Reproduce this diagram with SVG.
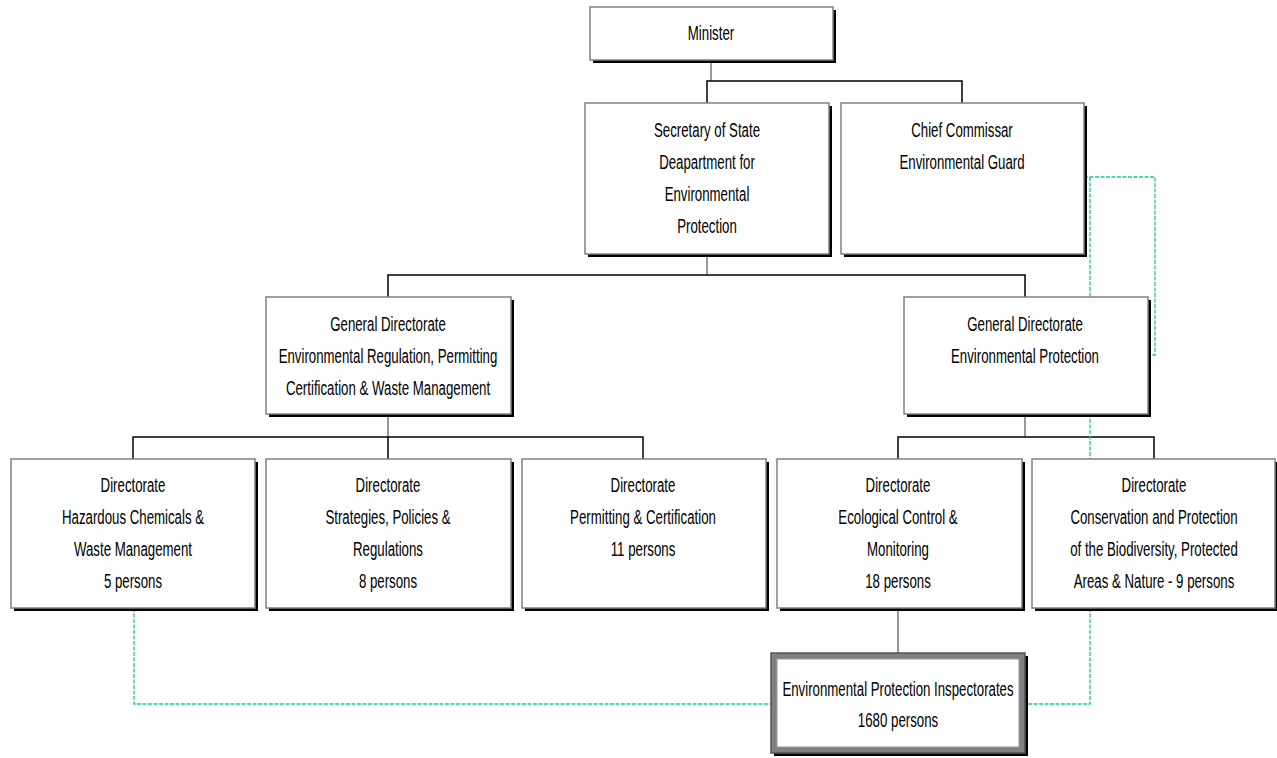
<svg xmlns="http://www.w3.org/2000/svg" width="1277" height="758" viewBox="0 0 1277 758">
<style>
.sh{fill:#000}
.bx{fill:#fff;stroke:#808080;stroke-width:1.5}
.t{font-family:"Liberation Sans",Arial,sans-serif;font-size:19.5px;fill:#000;text-anchor:middle}
.c{fill:none;stroke:#000;stroke-width:1.5}
.cg{fill:none;stroke:#555;stroke-width:1.2}
.d{fill:none;stroke:#16c99b;stroke-width:1.3;stroke-dasharray:4 1.5}
</style>
<rect width="1277" height="758" fill="#fff"/>
<g id="connectors">
<path class="cg" d="M711 60V81"/>
<path class="c" d="M707 103V81H962V103"/>
<path class="cg" d="M707 254V275"/>
<path class="c" d="M388 297V275H1025V297"/>
<path class="cg" d="M388 414V437"/>
<path class="c" d="M133 459V437H643V459M388 437V459"/>
<path class="cg" d="M1025 414V437"/>
<path class="c" d="M898 459V437H1154V459"/>
<path class="cg" d="M898 608V653"/>
<path class="d" d="M1084 177H1155V355H1148"/>
<path class="d" d="M1090 177V459"/>
<path class="d" d="M134 608V704H771"/>
<path class="d" d="M1090 608V704H1025"/>
</g>
<g id="minister"><rect class="sh" x="593" y="10" width="243" height="53"/><rect class="bx" x="590" y="7" width="243" height="53"/>
<g transform="translate(711 0) scale(0.68 1)"><text class="t" x="0" y="40">Minister</text></g></g>
<g id="secretary"><rect class="sh" x="588" y="106" width="244" height="151"/><rect class="bx" x="585" y="103" width="244" height="151"/>
<g transform="translate(707 0) scale(0.68 1)"><text class="t" x="0" y="137">Secretary of State</text><text class="t" x="0" y="169">Deapartment for</text><text class="t" x="0" y="201">Environmental</text><text class="t" x="0" y="233">Protection</text></g></g>
<g id="chief"><rect class="sh" x="844" y="106" width="243" height="151"/><rect class="bx" x="841" y="103" width="243" height="151"/>
<g transform="translate(962 0) scale(0.68 1)"><text class="t" x="0" y="137">Chief Commissar</text><text class="t" x="0" y="169">Environmental Guard</text></g></g>
<g id="gd-left"><rect class="sh" x="269" y="300" width="245" height="117"/><rect class="bx" x="266" y="297" width="245" height="117"/>
<g transform="translate(388 0) scale(0.68 1)"><text class="t" x="0" y="331">General Directorate</text><text class="t" x="0" y="363">Environmental Regulation, Permitting</text><text class="t" x="0" y="395">Certification &amp; Waste Management</text></g></g>
<g id="gd-right"><rect class="sh" x="907" y="300" width="244" height="117"/><rect class="bx" x="904" y="297" width="244" height="117"/>
<g transform="translate(1025 0) scale(0.68 1)"><text class="t" x="0" y="331">General Directorate</text><text class="t" x="0" y="363">Environmental Protection</text></g></g>
<g id="dir-hazard"><rect class="sh" x="14" y="462" width="244" height="149"/><rect class="bx" x="11" y="459" width="244" height="149"/>
<g transform="translate(133 0) scale(0.68 1)"><text class="t" x="0" y="492">Directorate</text><text class="t" x="0" y="524">Hazardous Chemicals &amp;</text><text class="t" x="0" y="556">Waste Management</text><text class="t" x="0" y="588">5 persons</text></g></g>
<g id="dir-strategies"><rect class="sh" x="269" y="462" width="245" height="149"/><rect class="bx" x="266" y="459" width="245" height="149"/>
<g transform="translate(388 0) scale(0.68 1)"><text class="t" x="0" y="492">Directorate</text><text class="t" x="0" y="524">Strategies, Policies &amp;</text><text class="t" x="0" y="556">Regulations</text><text class="t" x="0" y="588">8 persons</text></g></g>
<g id="dir-permitting"><rect class="sh" x="525" y="462" width="244" height="149"/><rect class="bx" x="522" y="459" width="244" height="149"/>
<g transform="translate(643 0) scale(0.68 1)"><text class="t" x="0" y="492">Directorate</text><text class="t" x="0" y="524">Permitting &amp; Certification</text><text class="t" x="0" y="556">11 persons</text></g></g>
<g id="dir-ecological"><rect class="sh" x="780" y="462" width="245" height="149"/><rect class="bx" x="777" y="459" width="245" height="149"/>
<g transform="translate(898 0) scale(0.68 1)"><text class="t" x="0" y="492">Directorate</text><text class="t" x="0" y="524">Ecological Control &amp;</text><text class="t" x="0" y="556">Monitoring</text><text class="t" x="0" y="588">18 persons</text></g></g>
<g id="dir-conservation"><rect class="sh" x="1035" y="462" width="242" height="149"/><rect class="bx" x="1032" y="459" width="243" height="149"/>
<g transform="translate(1154 0) scale(0.68 1)"><text class="t" x="0" y="492">Directorate</text><text class="t" x="0" y="524">Conservation and Protection</text><text class="t" x="0" y="556">of the Biodiversity, Protected</text><text class="t" x="0" y="588">Areas &amp; Nature - 9 persons</text></g></g>
<g id="inspectorates"><rect class="sh" x="774" y="656" width="254" height="100"/>
<rect x="771" y="653" width="254" height="100" fill="#808080" stroke="#555" stroke-width="1.5"/>
<rect x="777" y="659" width="242" height="88" fill="#fff" stroke="#999" stroke-width="1"/>
<g transform="translate(898 0) scale(0.68 1)"><text class="t" x="0" y="696">Environmental Protection Inspectorates</text><text class="t" x="0" y="727">1680 persons</text></g></g>
</svg>
